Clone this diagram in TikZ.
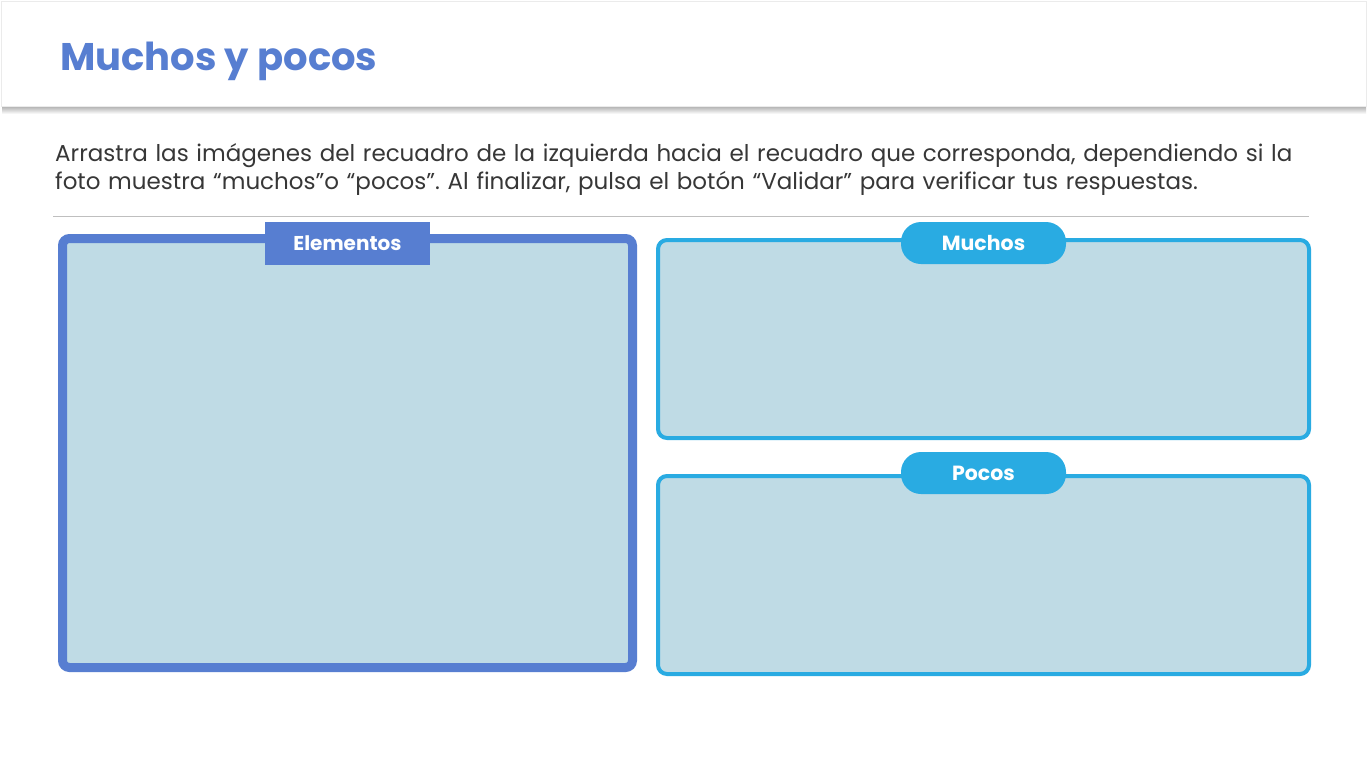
\documentclass[tikz,border=0pt]{standalone}
\usepackage{fontspec}
\setmainfont{Poppins}
\usetikzlibrary{positioning}
\definecolor{elemblue}{RGB}{87,126,209}
\definecolor{muchblue}{RGB}{41,171,226}
\definecolor{boxfill}{RGB}{191,219,229}
\definecolor{textgray}{RGB}{55,55,55}
\tikzstyle{header} = [rectangle, fill=white, draw=black!8, minimum width=1365, minimum height=105, anchor=north west, inner sep=0, outer sep=0]
\tikzstyle{title} = [anchor=base west, text=elemblue, font=\fontsize{38.5}{42}\selectfont\bfseries, inner sep=0]
\tikzstyle{instr} = [anchor=base west, text=textgray, text width=1300, align=left, font=\fontsize{23}{28}\selectfont\frenchspacing, inner sep=0]
\tikzstyle{elembox} = [rectangle, rounded corners=7, draw=elemblue, line width=9, fill=boxfill, minimum width=570, minimum height=429, anchor=north west, inner sep=0, outer sep=0]
\tikzstyle{dropbox} = [rectangle, rounded corners=9, draw=muchblue, line width=4, fill=boxfill, minimum width=651, minimum height=198, anchor=north west, inner sep=0, outer sep=0]
\tikzstyle{elemtab} = [rectangle, fill=elemblue, text=white, minimum width=165, minimum height=43, font=\fontsize{20}{22}\selectfont\bfseries, inner sep=0]
\tikzstyle{droptab} = [rectangle, rounded corners=20, fill=muchblue, text=white, minimum width=165, minimum height=42, font=\fontsize{20.5}{22}\selectfont\bfseries, inner sep=0]

\begin{document}
\begin{tikzpicture}[x=1pt, y=-1pt]
	\useasboundingbox (0,0) rectangle (1367,769);
	\fill[white] (0,0) rectangle (1367,769);

	\shade[top color=black!40, bottom color=white] (2,104) rectangle (1366,114);
	\node (head) [header] at (1,1) {};
	\node (title) [title] at (60,70) {Muchos y pocos};

	\node (instr) [instr] at (55,161) {Arrastra las imágenes del recuadro de la izquierda hacia el recuadro que corresponda, dependiendo si la\\ foto muestra “muchos”o “pocos”. Al finalizar, pulsa el botón “Validar” para verificar tus respuestas.};

	\coordinate (ruleL) at (53,216);
	\coordinate (ruleR) at (1309,216);
	\draw [black!25, line width=1] (ruleL) -- (ruleR);

	\node (elements) [elembox] at (62.5,238.5) {};
	\node (elemtab) [elemtab] at ([yshift=-5]elements.north) {Elementos};

	\node (many) [dropbox] at (658,240) {};
	\node (manytab) [droptab] at ([yshift=-3]many.north) {Muchos};

	\node (few) [dropbox] at (658,476) {};
	\node (fewtab) [droptab] at ([yshift=3]few.north) {Pocos};
\end{tikzpicture}
\end{document}
